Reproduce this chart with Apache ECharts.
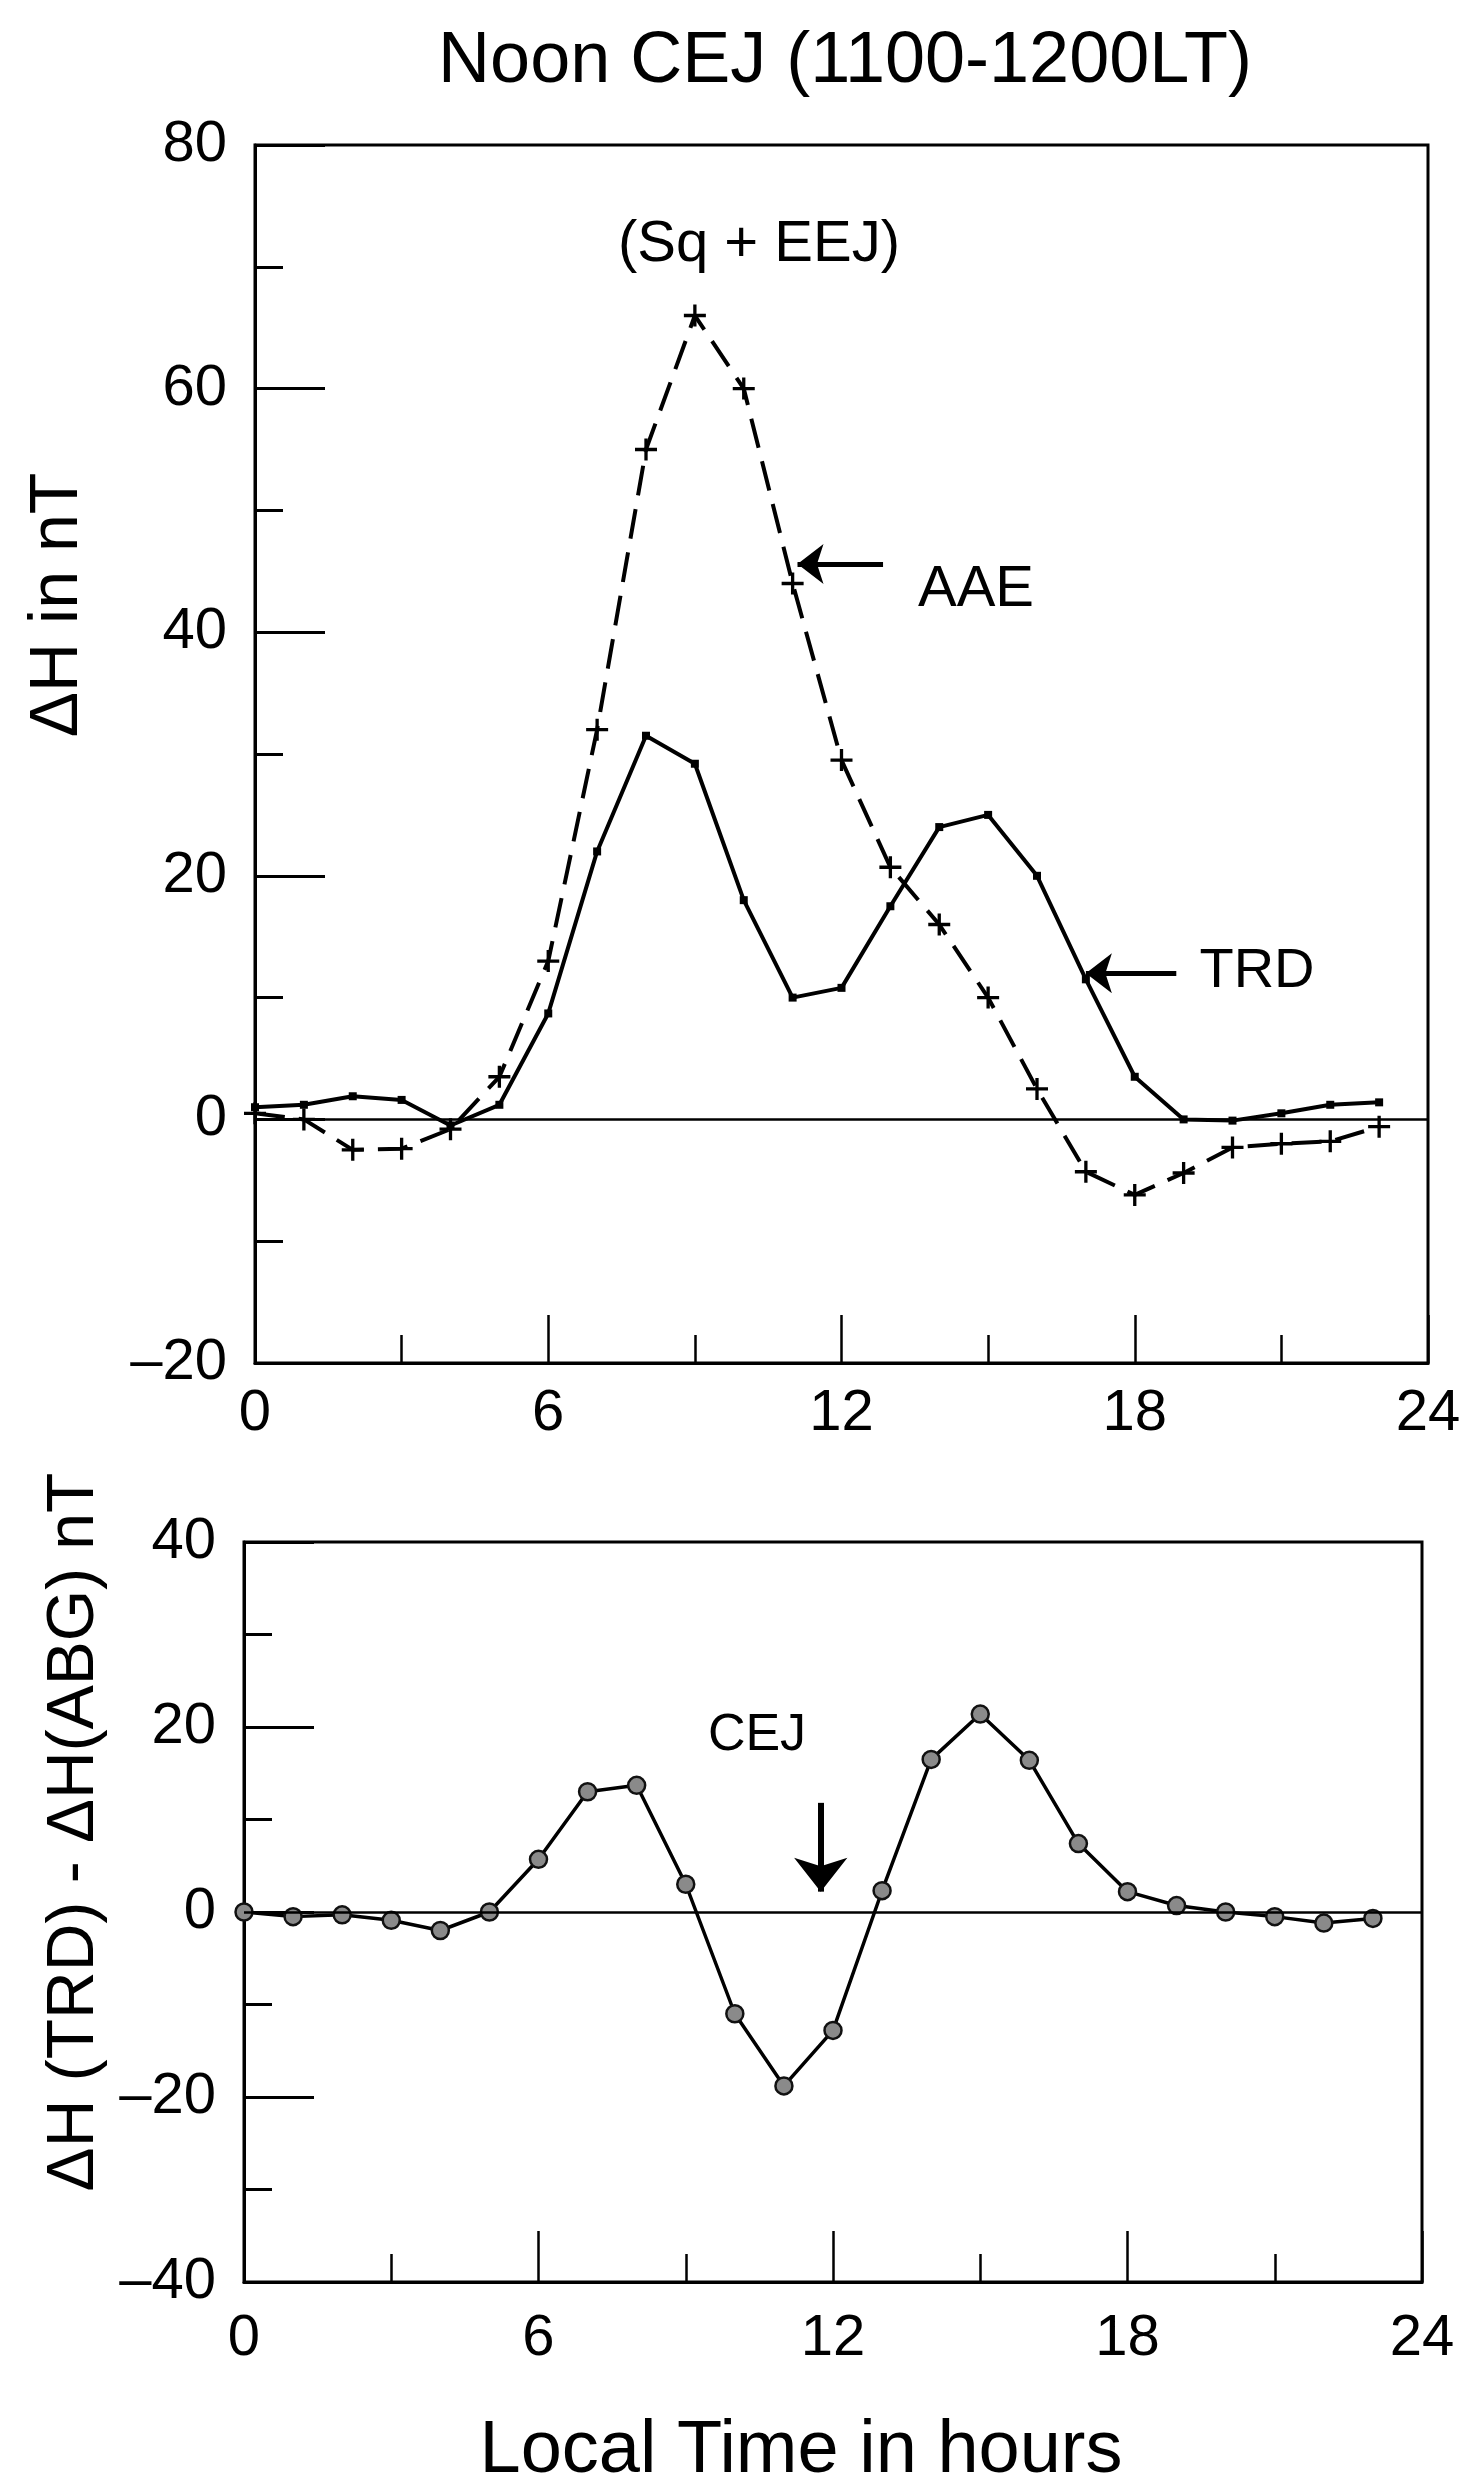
<!DOCTYPE html>
<html>
<head>
<meta charset="utf-8" />
<title>Noon CEJ (1100-1200LT)</title>
<script src="https://cdn.jsdelivr.net/npm/echarts@6/dist/echarts.min.js"></script>
<style>
  body { margin: 0; background: #fff; }
</style>
</head>
<body>
<div id="main" style="width:1473px;height:2475px;"></div>
<script type="text/javascript">
// hourly local time
var hours = [0, 1, 2, 3, 4, 5, 6, 7, 8, 9, 10, 11, 12, 13, 14, 15, 16, 17, 18, 19, 20, 21, 22, 23];
// top panel, ΔH in nT
var trd = [1.0, 1.2, 1.9, 1.6, -0.5, 1.2, 8.7, 22, 31.5, 29.2, 18, 10, 10.8, 17.5, 24, 25, 20, 11.5, 3.5, 0, -0.1, 0.5, 1.2, 1.4];
var aae = [0.5, 0, -2.5, -2.4, -0.8, 3.5, 13, 32, 55, 66, 60, 44, 29.5, 20.7, 16, 10, 2.5, -4.3, -6.2, -4.4, -2.3, -2, -1.8, -0.6];
// bottom panel, ΔH(TRD) - ΔH(ABG)
var cej = [0, -0.5, -0.3, -0.9, -2, 0, 5.7, 13, 13.7, 3, -11, -18.8, -12.8, 2.3, 16.5, 21.4, 16.4, 7.4, 2.2, 0.7, 0, -0.5, -1.2, -0.7];

var topRange = [-20, 80];
var bottomRange = [-40, 40];
var xRange = [0, 24];

var FONT = '"Liberation Sans", Arial, Helvetica, sans-serif';
var plusPath = 'path://M8.5,0H11.5V8.5H20V11.5H11.5V20H8.5V11.5H0V8.5H8.5Z';

function pairs(ys) {
    return hours.map(function (h, i) { return [h, ys[i]]; });
}
function dash(v) {
    return String(v).replace('-', '\u2013');
}

function xAxisFor(gridIndex, tickLen, margin) {
    return {
        type: 'value', gridIndex: gridIndex,
        min: xRange[0], max: xRange[1], interval: 6,
        axisLine: { show: true, onZero: false, lineStyle: { color: '#000', width: 3 } },
        axisTick: { show: true, inside: true, length: tickLen, lineStyle: { color: '#000', width: 2.5 } },
        minorTick: { show: true, splitNumber: 2, length: 28, lineStyle: { color: '#000', width: 2.5 } },
        splitLine: { show: false },
        minorSplitLine: { show: false },
        axisLabel: { color: '#000', fontSize: 58, fontFamily: FONT, margin: margin }
    };
}
function yAxisFor(gridIndex, range) {
    return {
        type: 'value', gridIndex: gridIndex,
        min: range[0], max: range[1], interval: 20,
        axisLine: { show: true, onZero: false, lineStyle: { color: '#000', width: 3 } },
        axisTick: { show: true, inside: true, length: 70, lineStyle: { color: '#000', width: 3 } },
        minorTick: { show: true, splitNumber: 2, length: 28, lineStyle: { color: '#000', width: 3 } },
        splitLine: { show: false },
        minorSplitLine: { show: false },
        axisLabel: { color: '#000', fontSize: 58, fontFamily: FONT, margin: 28, formatter: dash }
    };
}
function label(text, x, y, size, rot) {
    return {
        type: 'text', x: x, y: y, rotation: rot || 0,
        style: { text: text, font: size + 'px ' + FONT, fill: '#000', textAlign: 'center', textVerticalAlign: 'middle' }
    };
}

var myChart = echarts.init(document.getElementById('main'));

var option = {
    backgroundColor: '#fff',
    animation: false,
    grid: [
        { left: 255, top: 145, width: 1173, height: 1218, show: true, borderColor: '#000', borderWidth: 3, outerBoundsMode: 'none' },
        { left: 244, top: 1542, width: 1178, height: 740, show: true, borderColor: '#000', borderWidth: 3, outerBoundsMode: 'none' }
    ],
    xAxis: [xAxisFor(0, 48, 22), xAxisFor(1, 51, 28)],
    yAxis: [yAxisFor(0, topRange), yAxisFor(1, bottomRange)],
    series: [
        {
            name: 'TRD', type: 'line', xAxisIndex: 0, yAxisIndex: 0,
            data: pairs(trd),
            symbol: 'rect', symbolSize: 8,
            itemStyle: { color: '#000' },
            lineStyle: { color: '#000', width: 4 },
            markLine: {
                silent: true, symbol: 'none',
                label: { show: false },
                lineStyle: { color: '#000', width: 2.5, type: 'solid' },
                data: [{ yAxis: 0 }]
            }
        },
        {
            name: 'AAE', type: 'line', xAxisIndex: 0, yAxisIndex: 0,
            data: pairs(aae),
            symbol: plusPath, symbolSize: 22,
            itemStyle: { color: '#000' },
            lineStyle: { color: '#000', width: 4, type: [30, 14] },
            markLine: {
                silent: true, symbol: ['none', 'arrow'], symbolSize: [30, 26],
                label: { show: false },
                lineStyle: { color: '#000', width: 5, type: 'solid' },
                data: [
                    [{ coord: [12.85, 45.6] }, { coord: [11.1, 45.6] }],
                    [{ coord: [18.85, 12] }, { coord: [17.0, 12] }]
                ]
            }
        },
        {
            name: 'CEJ', type: 'line', xAxisIndex: 1, yAxisIndex: 1,
            data: pairs(cej),
            symbol: 'circle', symbolSize: 17,
            itemStyle: { color: '#8a8a8a', borderColor: '#111', borderWidth: 2.5 },
            lineStyle: { color: '#000', width: 3.5 },
            markLine: {
                silent: true, symbol: 'none',
                label: { show: false },
                lineStyle: { color: '#000', width: 2.5, type: 'solid' },
                data: [
                    { yAxis: 0 },
                    [{ coord: [11.75, 11.8], lineStyle: { width: 6 } },
                     { coord: [11.75, 2.2], symbol: 'arrow', symbolSize: [40, 34] }]
                ]
            }
        }
    ],
    graphic: [
        label('Noon CEJ (1100-1200LT)', 845, 62, 72),
        label('(Sq + EEJ)', 759, 245, 58),
        label('AAE', 976, 590, 58),
        label('TRD', 1257, 972, 56),
        label('CEJ', 757, 1736, 52),
        label('\u0394H in nT', 58, 605, 68, Math.PI / 2),
        label('\u0394H (TRD) - \u0394H(ABG) nT', 75, 1832, 66, Math.PI / 2),
        label('Local Time in hours', 801, 2452, 74)
    ]
};

myChart.setOption(option);
</script>
</body>
</html>
